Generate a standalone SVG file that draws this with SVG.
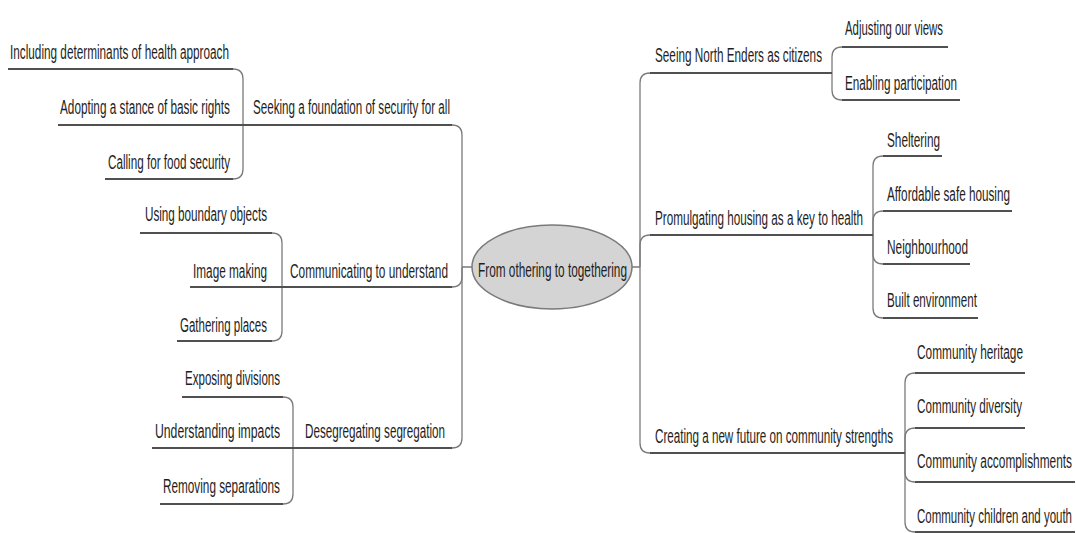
<svg xmlns="http://www.w3.org/2000/svg" width="1076" height="533" viewBox="0 0 1076 533">
<style>
.t{font-family:"Liberation Sans Narrow","Liberation Sans",Arial,sans-serif;font-size:20px;fill:#1e1e1e}
.u{fill:none;stroke:#505050;stroke-width:1.8}
.c{fill:none;stroke:#7a7a7a;stroke-width:1.3}
.root{fill:#d4d4d4;stroke:#7a7a7a;stroke-width:1.5}
</style>
<rect width="1076" height="533" fill="#fff"/>
<g id="connectors">
<path class="c" d="M472 267 H462 M632 267 H640"/>
<path class="c" d="M462 267 V135 Q462 125 452 125"/>
<path class="c" d="M462 267 V277 Q462 287 452 287"/>
<path class="c" d="M462 267 V438 Q462 448 452 448"/>
<path class="c" d="M243 125 V79 Q243 69 233 69"/>
<path class="c" d="M243 125 V169 Q243 179 233 179"/>
<path class="c" d="M282 287 V243 Q282 233 272 233"/>
<path class="c" d="M282 287 V331 Q282 341 272 341"/>
<path class="c" d="M293 448 V407 Q293 397 283 397"/>
<path class="c" d="M293 448 V494 Q293 504 283 504"/>
<path class="c" d="M640 267 V83 Q640 73 650 73"/>
<path class="c" d="M640 267 V245 Q640 235 650 235"/>
<path class="c" d="M640 267 V443 Q640 453 650 453"/>
<path class="c" d="M832 73 V57 Q832 47 842 47"/>
<path class="c" d="M832 73 V90 Q832 100 842 100"/>
<path class="c" d="M873 235 V166 Q873 156 883 156"/>
<path class="c" d="M873 235 V221 Q873 211 883 211"/>
<path class="c" d="M873 235 V254 Q873 264 883 264"/>
<path class="c" d="M873 235 V308 Q873 318 883 318"/>
<path class="c" d="M905 453 V383 Q905 373 915 373"/>
<path class="c" d="M905 453 V438 Q905 428 915 428"/>
<path class="c" d="M905 453 V472 Q905 482 915 482"/>
<path class="c" d="M905 453 V522 Q905 532 915 532"/>
</g>
<g id="root">
<ellipse class="root" cx="552" cy="267" rx="80" ry="42"/>
<text class="t" x="478" y="277" textLength="149" lengthAdjust="spacingAndGlyphs">From othering to togethering</text>
</g>
<g id="n-seeking"><text class="t" x="253" y="114" textLength="197" lengthAdjust="spacingAndGlyphs">Seeking a foundation of security for all</text><path class="u" d="M243 125 H452"/></g>
<g id="n-including"><text class="t" x="10" y="59" textLength="219" lengthAdjust="spacingAndGlyphs">Including determinants of health approach</text><path class="u" d="M8 69 H233"/></g>
<g id="n-adopting"><text class="t" x="60" y="114" textLength="170" lengthAdjust="spacingAndGlyphs">Adopting a stance of basic rights</text><path class="u" d="M58 125 H243"/></g>
<g id="n-calling"><text class="t" x="108" y="169" textLength="122" lengthAdjust="spacingAndGlyphs">Calling for food security</text><path class="u" d="M105 179 H233"/></g>
<g id="n-communicating"><text class="t" x="290" y="278" textLength="158" lengthAdjust="spacingAndGlyphs">Communicating to understand</text><path class="u" d="M282 287 H452"/></g>
<g id="n-using"><text class="t" x="145" y="221" textLength="122" lengthAdjust="spacingAndGlyphs">Using boundary objects</text><path class="u" d="M140 233 H272"/></g>
<g id="n-image"><text class="t" x="193" y="278" textLength="74" lengthAdjust="spacingAndGlyphs">Image making</text><path class="u" d="M190 287 H282"/></g>
<g id="n-gathering"><text class="t" x="180" y="332" textLength="87" lengthAdjust="spacingAndGlyphs">Gathering places</text><path class="u" d="M177 341 H272"/></g>
<g id="n-desegregating"><text class="t" x="305" y="438" textLength="140" lengthAdjust="spacingAndGlyphs">Desegregating segregation</text><path class="u" d="M293 448 H452"/></g>
<g id="n-exposing"><text class="t" x="185" y="385" textLength="95" lengthAdjust="spacingAndGlyphs">Exposing divisions</text><path class="u" d="M182 397 H283"/></g>
<g id="n-understanding"><text class="t" x="155" y="438" textLength="125" lengthAdjust="spacingAndGlyphs">Understanding impacts</text><path class="u" d="M152 448 H293"/></g>
<g id="n-removing"><text class="t" x="163" y="493" textLength="117" lengthAdjust="spacingAndGlyphs">Removing separations</text><path class="u" d="M160 504 H283"/></g>
<g id="n-seeing"><text class="t" x="655" y="62" textLength="167" lengthAdjust="spacingAndGlyphs">Seeing North Enders as citizens</text><path class="u" d="M650 73 H832"/></g>
<g id="n-adjusting"><text class="t" x="845" y="35" textLength="98" lengthAdjust="spacingAndGlyphs">Adjusting our views</text><path class="u" d="M842 47 H948"/></g>
<g id="n-enabling"><text class="t" x="845" y="90" textLength="112" lengthAdjust="spacingAndGlyphs">Enabling participation</text><path class="u" d="M842 100 H960"/></g>
<g id="n-promulgating"><text class="t" x="655" y="225" textLength="208" lengthAdjust="spacingAndGlyphs">Promulgating housing as a key to health</text><path class="u" d="M650 235 H873"/></g>
<g id="n-sheltering"><text class="t" x="887" y="147" textLength="53" lengthAdjust="spacingAndGlyphs">Sheltering</text><path class="u" d="M883 156 H942"/></g>
<g id="n-affordable"><text class="t" x="887" y="201" textLength="123" lengthAdjust="spacingAndGlyphs">Affordable safe housing</text><path class="u" d="M883 211 H1012"/></g>
<g id="n-neighbourhood"><text class="t" x="887" y="254" textLength="81" lengthAdjust="spacingAndGlyphs">Neighbourhood</text><path class="u" d="M883 264 H970"/></g>
<g id="n-built"><text class="t" x="887" y="307" textLength="90" lengthAdjust="spacingAndGlyphs">Built environment</text><path class="u" d="M883 318 H978"/></g>
<g id="n-creating"><text class="t" x="655" y="443" textLength="238" lengthAdjust="spacingAndGlyphs">Creating a new future on community strengths</text><path class="u" d="M650 453 H905"/></g>
<g id="n-heritage"><text class="t" x="917" y="359" textLength="106" lengthAdjust="spacingAndGlyphs">Community heritage</text><path class="u" d="M915 373 H1025"/></g>
<g id="n-diversity"><text class="t" x="917" y="413" textLength="105" lengthAdjust="spacingAndGlyphs">Community diversity</text><path class="u" d="M915 428 H1025"/></g>
<g id="n-accomplishments"><text class="t" x="917" y="468" textLength="155" lengthAdjust="spacingAndGlyphs">Community accomplishments</text><path class="u" d="M915 482 H1075"/></g>
<g id="n-children"><text class="t" x="917" y="523" textLength="155" lengthAdjust="spacingAndGlyphs">Community children and youth</text><path class="u" d="M915 532 H1075"/></g>
</svg>
